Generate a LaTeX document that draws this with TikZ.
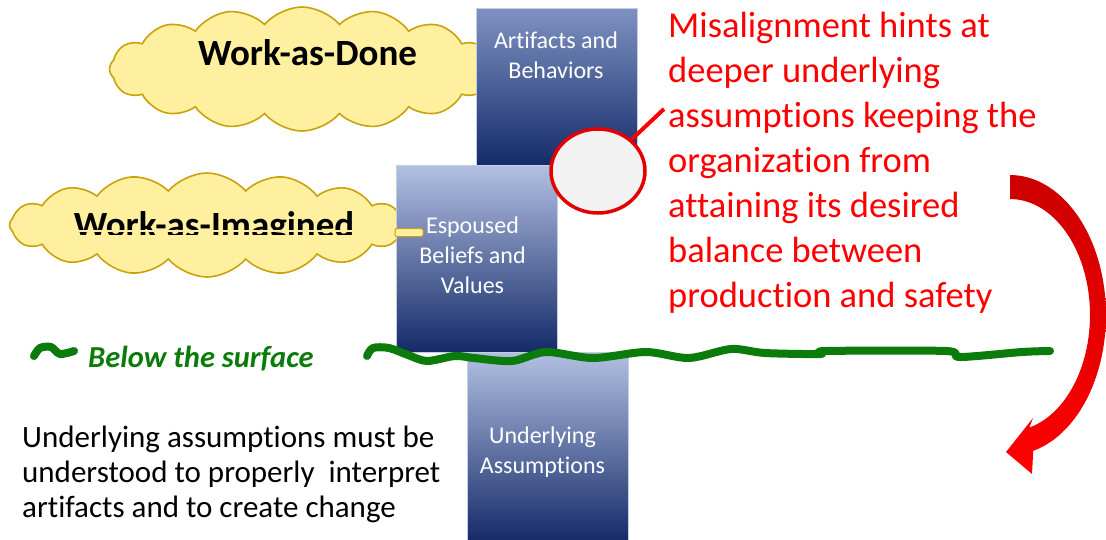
\documentclass[tikz,border=0pt]{standalone}
\usepackage{fontspec}
\setmainfont{Carlito}[Ligatures=NoCommon]
\usetikzlibrary{shapes.symbols,shapes.geometric}
\definecolor{cloudfill}{HTML}{FFF0A0}
\definecolor{cloudline}{HTML}{C9A20C}
\definecolor{navy}{HTML}{142A68}
\definecolor{boxlight}{HTML}{B2C0E2}
\definecolor{boxtop}{HTML}{7E92C2}
\definecolor{boxedge}{HTML}{C5CDE0}
\definecolor{leafgreen}{HTML}{0B7B0B}
\definecolor{darkred}{HTML}{CC0000}
\definecolor{circfill}{HTML}{F2F2F2}
\begin{document}
\begin{tikzpicture}[x=1pt,y=-1pt,
  cloudshape/.style={cloud, cloud puffs=16, cloud puff arc=100, draw=cloudline,
    line width=1.6pt, fill=cloudfill, inner sep=0pt},
  layer/.style={rectangle, draw=boxedge, line width=0.6pt, inner sep=0pt,
    bottom color=navy},
  boxtext/.style={text=white, inner sep=0pt, anchor=base},
  greenline/.style={draw=leafgreen, line width=8pt, line cap=round, line join=round},
  cloudtext/.style={font=\fontsize{37}{37}\selectfont\bfseries, inner sep=0pt, anchor=base}]
\useasboundingbox (0,0) rectangle (1106,539);

% clouds
\node[cloudshape, minimum width=385pt, minimum height=124pt] (wad) at (302,69) {};
\node[cloudtext] (wadtext) at (307.5,65) {Work-as-Done};
\node[cloudshape, minimum width=395pt, minimum height=104pt] (wai) at (207,225) {};
\begin{scope}
  \clip (0,180) rectangle (400,229) (0,232) rectangle (400,234.5);
  \node[cloudtext] (waitext) at (214,237) {Work-as-Imagined};
\end{scope}

% layers
\node[layer, top color=boxtop, minimum width=161pt, minimum height=159pt] (artifacts) at (556.5,87.5) {};
\node[boxtext] (artlabel) at (556,48) {\parbox[t]{155pt}{\centering\fontsize{24}{30}\selectfont Artifacts and\\Behaviors}};
\node[layer, top color=boxlight, minimum width=161pt, minimum height=187pt] (espoused) at (476.5,258.5) {};
\node[boxtext] (esplabel) at (472.5,233) {\parbox[t]{155pt}{\centering\fontsize{24}{30}\selectfont Espoused\\Beliefs and\\Values}};
\node[layer, top color=boxlight, minimum width=161pt, minimum height=190pt] (assumptions) at (547.5,447) {};
\node[boxtext] (asslabel) at (542.5,443) {\parbox[t]{155pt}{\centering\fontsize{24}{30}\selectfont Underlying\\Assumptions}};

% cloud tab over the espoused box
\filldraw[cloudline, fill=cloudfill, line width=1pt, rounded corners=2pt] (395,228.5) rectangle (423,236.5);

% red note and spot
\node[anchor=base west, inner sep=0pt, text=red] (note) at (668,37)
  {\parbox[t]{440pt}{\raggedright\fontsize{36.5}{45}\selectfont Misalignment hints at\\deeper underlying\\assumptions keeping the\\organization from\\attaining its desired\\balance between\\production and safety}};
\coordinate (notepointer) at (664,109);
\node[ellipse, draw=red!90!black, line width=3.5pt, fill=circfill, minimum width=94pt, minimum height=84pt, inner sep=0pt] (spot) at (598,171) {};
\draw[red, line width=4pt] (spot) -- (notepointer);

% green surface line
\draw[greenline] plot[smooth, tension=0.5] coordinates {(34,356) (40,348) (51,347) (60,354) (74,351)};
\node[anchor=base west, inner sep=0pt, text=leafgreen, font=\fontsize{30.5}{30.5}\selectfont\bfseries\itshape] (surface) at (88,367) {Below the surface};
\draw[greenline] plot[smooth, tension=0.5] coordinates {(367,356) (373,348) (389,348) (408,355) (427,361) (455,356) (474,358) (512,361) (546,352) (593,358) (646,352) (689,358) (731,349) (765,353) (820,354) (826,351) (946,351) (960,357) (1022,352) (1050,351)};

% black text
\node[anchor=base west, inner sep=0pt] (remark) at (22,447)
  {\parbox[t]{460pt}{\raggedright\fontsize{31}{35}\selectfont Underlying assumptions must be\\understood to properly\ \ interpret\\artifacts and to create change}};

% red curved arrow
\shade[top color=darkred, bottom color=red]
  plot[domain=-90:76, samples=60, variable=\t] ({1010+96*cos(\t)}, {315+140*sin(\t)})
  -- (1032,474) -- (1006,452) -- (1033,418)
  -- plot[domain=76:-90, samples=60, variable=\t] ({1010+80*cos(\t)}, {315+116*sin(\t)})
  -- cycle;
\end{tikzpicture}
\end{document}
